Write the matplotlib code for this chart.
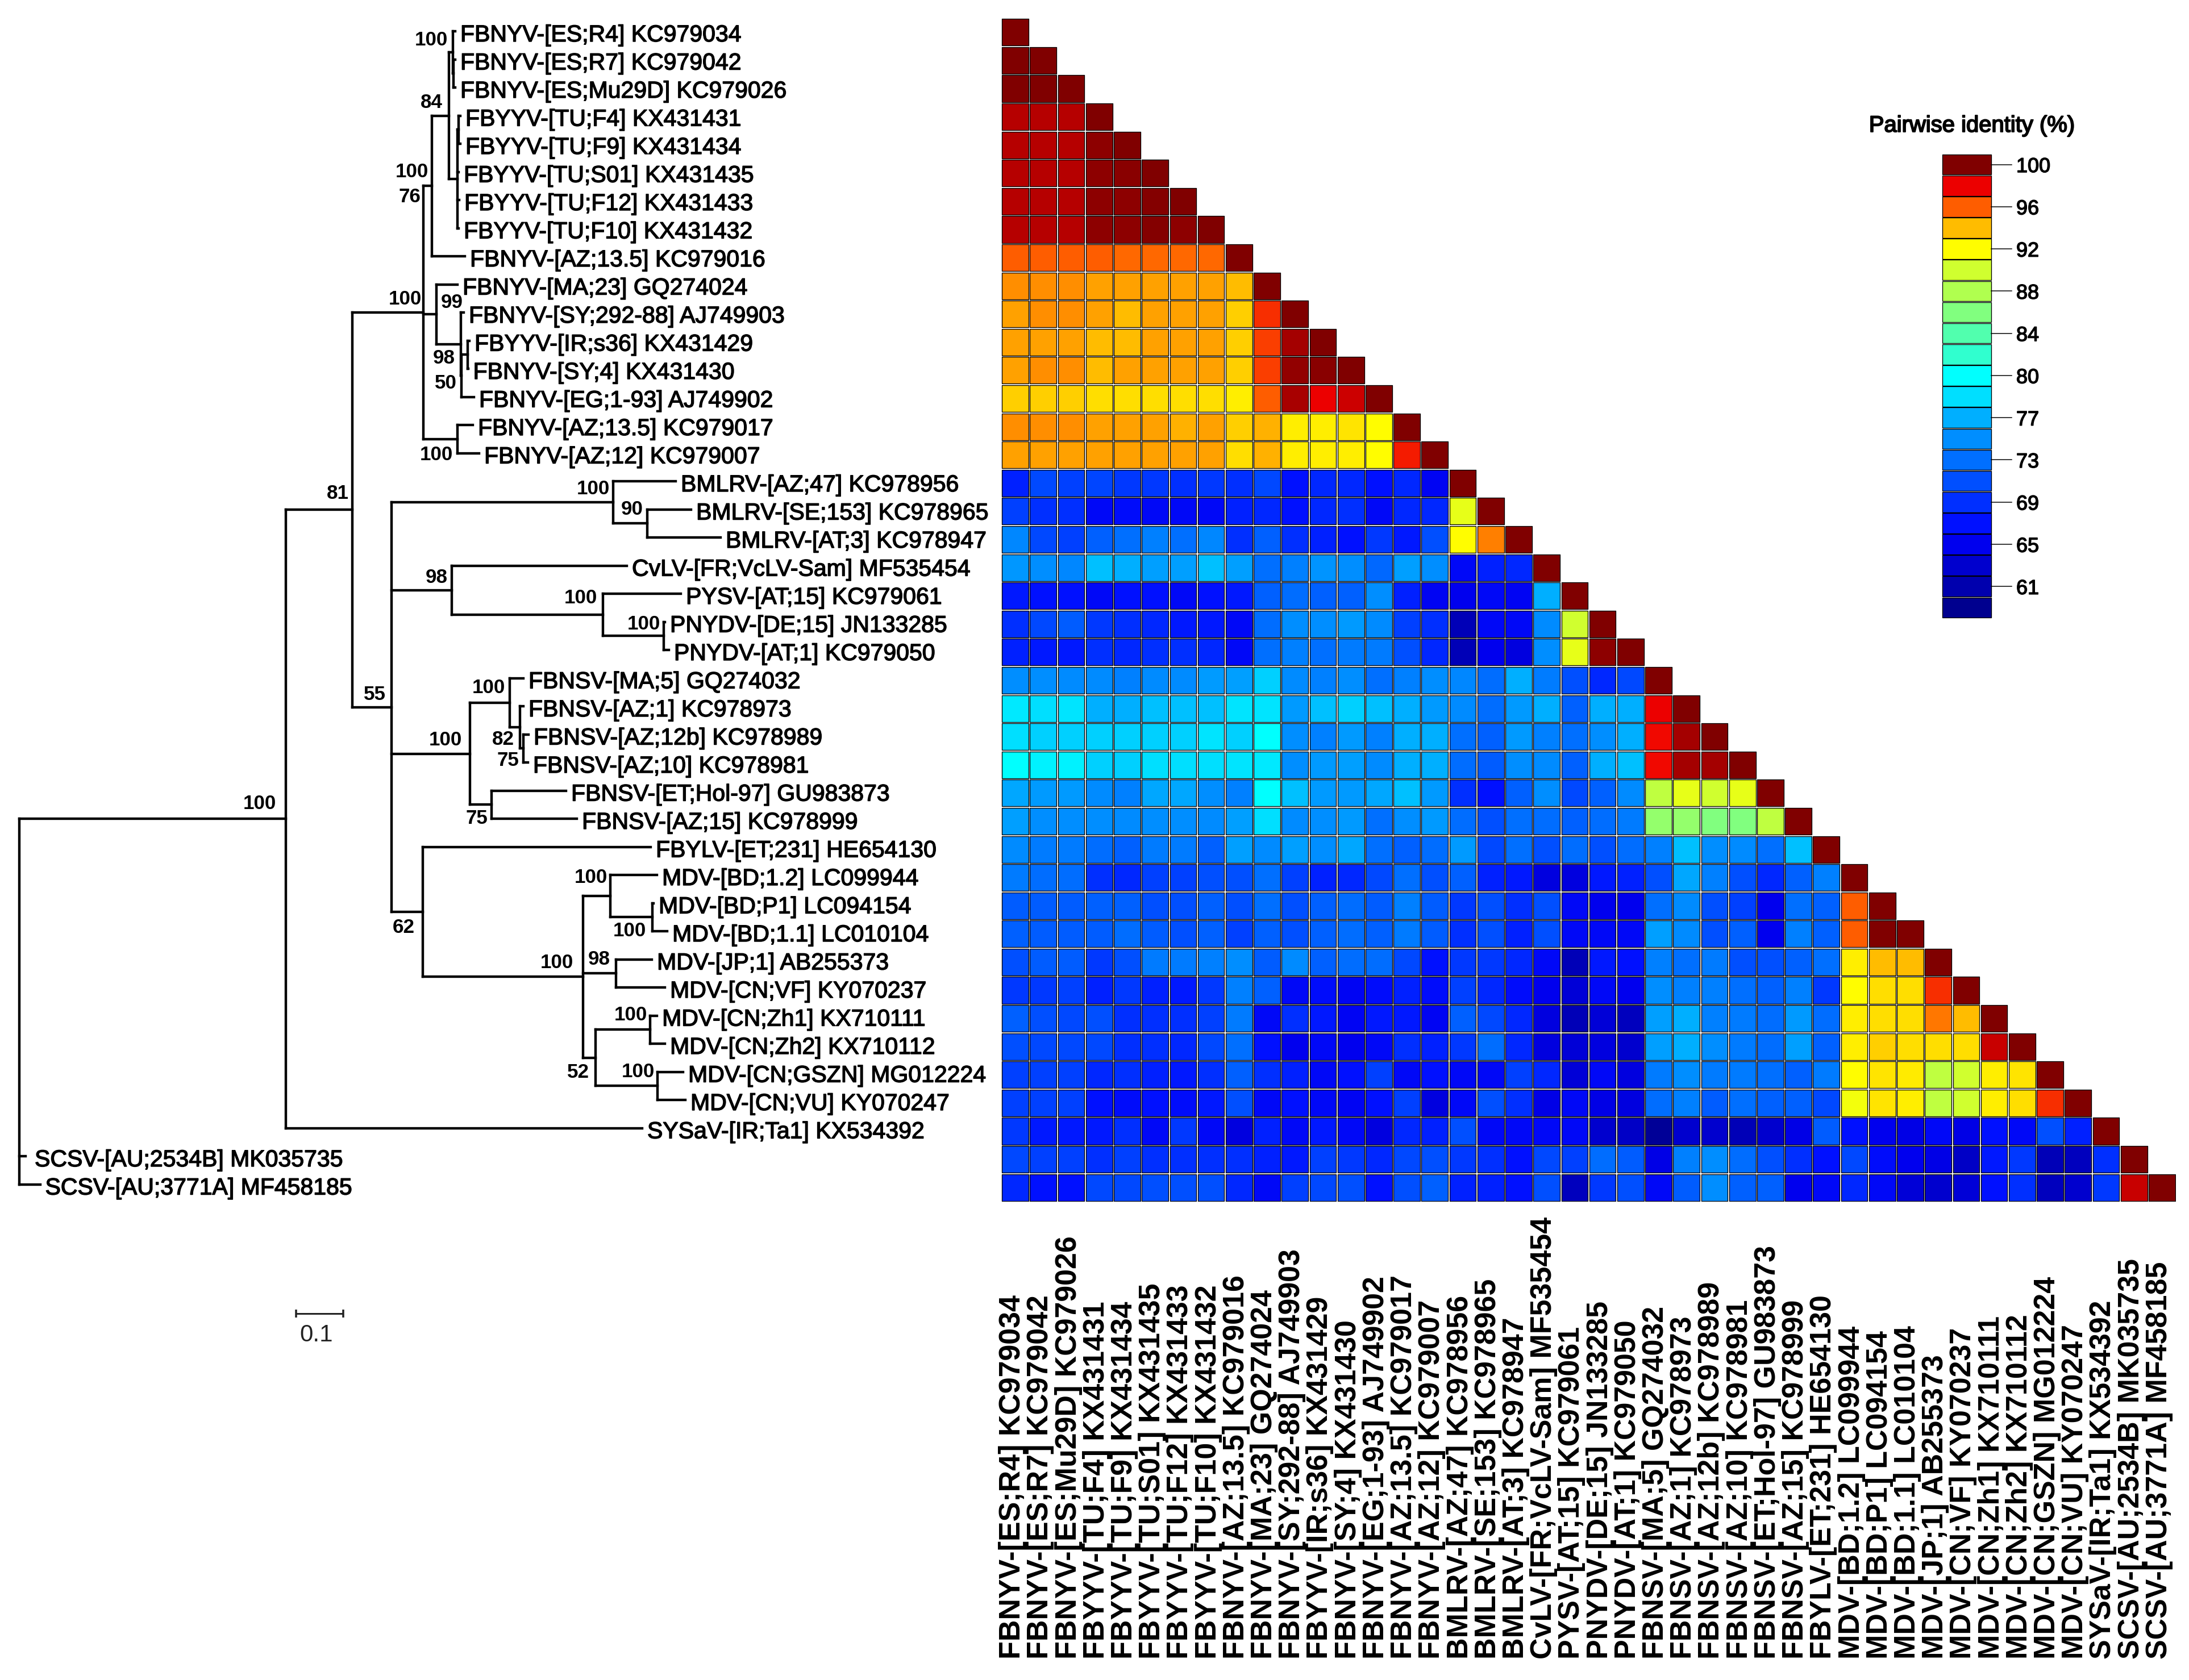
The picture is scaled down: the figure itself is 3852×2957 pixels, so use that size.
import matplotlib
matplotlib.use("Agg")
import matplotlib.pyplot as plt
import matplotlib.patheffects as pe
from matplotlib.collections import LineCollection, PatchCollection
from matplotlib.colors import LinearSegmentedColormap, Normalize
from matplotlib.patches import Rectangle

# ---------------------------------------------------------------- data
ISOLATES = [
    "FBNYV-[ES;R4] KC979034", "FBNYV-[ES;R7] KC979042", "FBNYV-[ES;Mu29D] KC979026",
    "FBYYV-[TU;F4] KX431431", "FBYYV-[TU;F9] KX431434", "FBYYV-[TU;S01] KX431435",
    "FBYYV-[TU;F12] KX431433", "FBYYV-[TU;F10] KX431432", "FBNYV-[AZ;13.5] KC979016",
    "FBNYV-[MA;23] GQ274024", "FBNYV-[SY;292-88] AJ749903", "FBYYV-[IR;s36] KX431429",
    "FBNYV-[SY;4] KX431430", "FBNYV-[EG;1-93] AJ749902", "FBNYV-[AZ;13.5] KC979017",
    "FBNYV-[AZ;12] KC979007", "BMLRV-[AZ;47] KC978956", "BMLRV-[SE;153] KC978965",
    "BMLRV-[AT;3] KC978947", "CvLV-[FR;VcLV-Sam] MF535454", "PYSV-[AT;15] KC979061",
    "PNYDV-[DE;15] JN133285", "PNYDV-[AT;1] KC979050", "FBNSV-[MA;5] GQ274032",
    "FBNSV-[AZ;1] KC978973", "FBNSV-[AZ;12b] KC978989", "FBNSV-[AZ;10] KC978981",
    "FBNSV-[ET;Hol-97] GU983873", "FBNSV-[AZ;15] KC978999", "FBYLV-[ET;231] HE654130",
    "MDV-[BD;1.2] LC099944", "MDV-[BD;P1] LC094154", "MDV-[BD;1.1] LC010104",
    "MDV-[JP;1] AB255373", "MDV-[CN;VF] KY070237", "MDV-[CN;Zh1] KX710111",
    "MDV-[CN;Zh2] KX710112", "MDV-[CN;GSZN] MG012224", "MDV-[CN;VU] KY070247",
    "SYSaV-[IR;Ta1] KX534392", "SCSV-[AU;2534B] MK035735", "SCSV-[AU;3771A] MF458185",
]

# Lower triangle of the pairwise identity matrix (%)
IDENTITY = [
    [100],
    [100, 100],
    [100, 100, 100],
    [99, 99, 99, 100],
    [99, 99, 99, 99.7, 100],
    [99, 99, 99, 99.7, 99.8, 100],
    [99, 99, 99, 99.7, 99.7, 99.9, 100],
    [99, 99, 99, 99.7, 99.7, 99.9, 99.7, 100],
    [96, 96, 96, 96, 95.8, 95.8, 95.8, 95.8, 100],
    [95, 95, 95, 94.6, 94.6, 94.6, 94.6, 94.6, 94, 100],
    [94.6, 95, 95, 94.6, 94, 94.6, 94.6, 94.6, 93.5, 97, 100],
    [94.6, 94.6, 94.6, 94, 94, 94.6, 94.6, 94.6, 93.5, 96.7, 99.3, 100],
    [94.6, 95, 95, 94, 94.6, 94.6, 94.6, 94.6, 93.5, 96.7, 99.6, 99.8, 100],
    [93.5, 93.5, 93.5, 93, 93, 93, 93, 93, 92.5, 96, 99.2, 98, 98.6, 100],
    [95, 95, 95, 94.6, 94.6, 94.6, 94.3, 94.6, 93.5, 94.3, 92.5, 92.5, 92.8, 92, 100],
    [94.6, 94.6, 94.6, 94.6, 94.6, 94.6, 94.6, 94.6, 93, 94.3, 92.5, 92.5, 92.5, 92, 97.4, 100],
    [68, 70.6, 70, 70.3, 69.5, 69.5, 69, 69.5, 69, 70.5, 67, 68.5, 68.5, 67, 68.5, 65.5, 100],
    [70, 69, 69, 66, 66.5, 66, 66, 66, 68, 68.5, 67, 68.5, 69, 66, 68.5, 68.5, 91, 100],
    [74.5, 70.5, 70, 72, 73, 74, 73, 74.5, 69, 72, 69, 68, 67, 69.5, 67.5, 71, 92, 95.3, 100],
    [75.5, 75, 74.5, 77.5, 77, 76, 76, 77.5, 76, 73, 74, 75.3, 75, 72.5, 76, 75, 66, 68, 68.5, 100],
    [67.5, 67, 67, 66, 67, 67, 66, 67, 67.5, 72, 72.8, 72, 72, 75, 68, 65.5, 65, 66, 65.5, 77, 100],
    [69, 70.5, 71.8, 69.5, 69, 68.5, 67.5, 67.5, 66, 72.8, 75, 75, 75.7, 74.7, 70, 69, 61.5, 66, 66, 74.7, 90, 100],
    [68, 67.5, 67.5, 69, 68.5, 69, 69, 68.5, 66, 73, 74, 73, 73.7, 73.7, 71, 68.5, 61.5, 65, 64, 75, 91, 99.7, 100],
    [75, 75, 74.7, 74.7, 74, 74.7, 74.7, 75.8, 76, 78, 74.7, 74, 75, 73, 74, 75, 74.5, 72.8, 77, 73.8, 71, 68.5, 70.5, 100],
    [79, 78.5, 78.7, 77, 77, 77.5, 77.5, 77.5, 78.7, 78.7, 75.7, 77.5, 78, 77.5, 77, 75.7, 74.7, 72.8, 75.7, 77, 72, 77, 77, 98, 100],
    [78.5, 78, 78, 78, 78, 78, 78, 78.7, 78, 80, 75, 74, 75.7, 74, 77, 77, 73, 72, 75.7, 74, 73, 75, 77, 97.8, 99.3, 100],
    [80, 79.4, 79.4, 78, 78, 78.5, 78.5, 78.5, 78.7, 79, 75, 75.7, 76, 74.7, 77, 77, 72.8, 71.8, 75, 74.7, 72, 77, 77.5, 97.8, 99.3, 99.3, 100],
    [76.5, 75.7, 75.7, 74.7, 74, 76.5, 76.5, 75, 74, 80, 77.5, 75.7, 75.7, 76.5, 77.5, 75.7, 69, 67, 72, 75, 70.5, 72, 74.7, 89, 91, 90, 91, 100],
    [76, 75, 75, 75, 74.7, 75, 75, 74.7, 76, 78.5, 74.7, 75, 75.7, 73, 75, 75.7, 72.8, 71, 73, 72.8, 72, 72.8, 73.7, 86.8, 86.8, 86, 86, 89, 100],
    [74.7, 73.7, 73.7, 72.8, 72, 73.7, 73.7, 72, 76, 74.7, 76, 75, 76.5, 73, 72, 72.8, 75.7, 70.5, 73, 71, 72.8, 71, 72.8, 74, 77.5, 75, 74.7, 73, 77.5, 100],
    [73.7, 72.8, 72.8, 69, 68.5, 70, 70, 71, 71, 73, 70, 68, 68.5, 70.5, 73, 71, 72, 68, 67.5, 64, 64, 67.5, 68, 71, 76.5, 74, 71, 68.5, 72, 74, 100],
    [71.8, 71.8, 71.8, 72, 72, 71, 71, 72, 71, 73, 71, 72, 72.8, 71.8, 74, 71.8, 69.5, 71, 69, 71, 66, 65, 65, 73, 74.7, 71, 70, 65, 73, 72, 96, 100],
    [72, 71.8, 71.8, 71.8, 72.8, 71.8, 71, 72, 70, 72, 71, 72, 72.8, 72, 73.7, 71.8, 69, 71, 68, 71, 66, 66, 66, 76, 74.7, 71, 72, 65, 74, 72, 96, 100, 100],
    [71, 71.8, 71.8, 69.5, 71, 73.7, 73.7, 74, 75, 71.8, 74.7, 72, 72.8, 72.8, 70.5, 67, 69.5, 69.5, 68.5, 66, 61.5, 67.5, 67, 74, 73, 73.7, 71, 71, 72, 73, 92.5, 94, 94, 100],
    [69.5, 69.5, 70, 68, 69.5, 68, 67.5, 69.5, 74, 72, 66, 66.5, 65.5, 66.5, 68, 66.5, 70, 68.5, 66.5, 65, 63.5, 66, 65, 75, 74, 74, 73, 72, 74, 69.5, 92, 93, 93, 97, 100],
    [72, 71, 70.5, 71, 69, 69, 69, 70, 73.7, 66, 69, 67.5, 65.5, 67.5, 67.5, 65.5, 72, 70.5, 68.5, 64, 61.5, 63.5, 62, 76, 77, 74, 73.7, 72.8, 75.7, 72.8, 92.5, 93, 93, 95.5, 94, 100],
    [71, 70.5, 70.5, 70.5, 69, 69, 68.5, 70.5, 73, 67, 65, 66, 65, 66, 69, 68, 69.5, 72.8, 68.5, 64, 63.5, 64, 63, 76, 77, 75, 73.7, 72.8, 76, 72, 92.5, 93.5, 93, 93, 93, 98.7, 100],
    [70, 70, 70, 68.5, 69, 68, 67.5, 69, 72, 69, 68, 66, 67, 70, 66, 67, 66, 66, 70, 68.5, 63.5, 66, 64, 73.7, 75, 73.7, 73.7, 73, 72, 73.7, 92, 92.8, 92.6, 89, 90, 92.5, 92.8, 100],
    [70, 70, 70, 67, 66.5, 67, 66.5, 67.5, 71, 66, 67, 66, 65.5, 67, 70, 64, 66, 71, 69, 64.5, 66, 64.5, 64, 72.8, 74, 71.8, 73, 72, 72, 70.5, 91.5, 92.8, 92.5, 89, 90, 92.5, 93, 97, 100],
    [69.5, 67.5, 67.5, 67.5, 69, 66, 69.5, 66, 64, 68, 66, 67.5, 66, 64, 68.5, 68, 71, 66, 66, 66, 66, 63, 62.5, 59.5, 63, 63, 61.5, 63, 64.5, 71.8, 67, 65, 64.5, 66, 64.5, 67, 66, 71, 68, 100],
    [70.5, 70, 70, 69, 70, 69, 69, 69, 69, 68, 67.5, 70, 69.5, 68.5, 70.5, 71, 69.5, 69, 67, 70.5, 70, 72.8, 71.8, 64.5, 74, 75, 72.8, 71, 69, 67, 70.5, 66.5, 65, 64.5, 62.5, 67.5, 69.5, 61.5, 62, 69, 100],
    [68.5, 67, 67, 70.5, 70.5, 71, 71, 71, 68.5, 66, 70, 70.5, 71, 67, 71, 72, 68, 68, 67, 71, 62, 69.5, 71, 66, 71.8, 75, 72, 72, 65, 66, 68.5, 66, 63.5, 63, 63.5, 67, 69, 62, 63, 69.5, 98.7, 100],
]
assert all(len(r) == i + 1 for i, r in enumerate(IDENTITY))

# Neighbour-joining tree: [branch length, children]; a leaf is [branch length]; leaves in ISOLATES order
TREE = [0, [
    [0.5651, [
        [0.1410, [
            [0.1506, [
                [0.0181, [
                    [0.0361, [
                        [0.0084, [[0.0048], [0.0012, [[0.0036], [0.0036]]]]],
                        [0.0181, [[0.0024, [[0.0036], [0.0036]]], [0.0024], [0.0036], [0.0024]]],
                    ]],
                    [0.0699],
                ]],
                [0.0277, [
                    [0.0446],
                    [0.0518, [
                        [0.0060],
                        [0.0012, [[0.0133, [[0.0036], [0.0006]]], [0.0265]]],
                    ]],
                ]],
                [0.0723, [[0.0325], [0.0458]]],
            ]],
            [0.0831, [
                [0.4699, [[0.1325], [0.0723, [[0.0928], [0.1554]]]]],
                [0.1277, [
                    [0.3711],
                    [0.3205, [[0.1651], [0.1289, [[0.0024], [0.0108]]]]],
                ]],
                [0.1663, [
                    [0.0843, [[0.0289], [0.0217, [[0.0072], [0.0072, [[0.0108], [0.0096]]]]]]],
                    [0.0458, [[0.1578], [0.1807]]],
                ]],
                [0.0663, [
                    [0.4831],
                    [0.3398, [
                        [0.0578, [[0.0988], [0.0892, [[0.0024], [0.0313]]]]],
                        [0.0699, [[0.0759], [0.1036]]],
                        [0.0265, [
                            [0.1157, [[0.0145], [0.0313]]],
                            [0.1313, [[0.0542], [0.0590]]],
                        ]],
                    ]],
                ]],
            ]],
        ]],
        [0.7554],
    ]],
    [0.0133],
    [0.0440],
]]

SUPPORT_VALUES = [100, 84, 100, 76, 100, 99, 98, 50, 100, 81, 100, 90, 98, 100, 100, 100, 55, 82, 75, 100,
                  75, 62, 100, 100, 100, 98, 100, 52, 100, 100]
SUPPORT_XY = [(759, 70), (759, 180), (725, 302), (721, 347), (713, 526), (795, 533), (781, 631), (784, 675),
              (768, 801), (594, 869), (1044, 860), (1112, 896), (768, 1016), (1022, 1052), (1133, 1099),
              (860, 1210), (659, 1222), (885, 1301), (894, 1338), (784, 1303), (839, 1441), (710, 1632),
              (1040, 1544), (1108, 1639), (980, 1695), (1054, 1689), (1110, 1786), (1017, 1888), (1123, 1887),
              (457, 1415)]

LEGEND_LEVELS = [100, 98, 96, 94, 92, 90, 88, 86, 84, 82, 80, 78.5, 77, 75, 73, 71, 69, 67, 65, 63, 61, 59]
LEGEND_COLORS = ["#800000", "#F00000", "#FF6000", "#FFBF00", "#FFFF00", "#CFFF30", "#AFFF50", "#80FF80",
                 "#50FFAF", "#30FFCF", "#00FFFF", "#00DFFF", "#00AFFF", "#008FFF", "#0070FF", "#0050FF",
                 "#0030FF", "#0010FF", "#0000EF", "#0000CF", "#0000AF", "#00008F"]
LEGEND_TICKS = [100, 96, 92, 88, 84, 80, 77, 73, 69, 65, 61]
SCALE_BAR = 0.1

# ---------------------------------------------------------------- layout
W, H = 3852, 2957
DPI = 300
PX = 72 / DPI   # points per pixel
SANS = ["Liberation Sans"]

fig = plt.figure(figsize=(W / DPI, H / DPI), dpi=DPI, facecolor="white")


def axes_px(left, top, right, bottom):
    return fig.add_axes([left / W, 1 - bottom / H, (right - left) / W, (bottom - top) / H])


def fig_xy(x, y):
    return x / W, 1 - y / H


def heavy(px):
    return [pe.withStroke(linewidth=px * PX, foreground="black")]


# ---------------------------------------------------------------- colour scale
lo, hi = min(LEGEND_LEVELS), max(LEGEND_LEVELS)
norm = Normalize(lo, hi)
cmap = LinearSegmentedColormap.from_list(
    "identity", sorted(((l - lo) / (hi - lo), c) for l, c in zip(LEGEND_LEVELS, LEGEND_COLORS)), N=512)

# ---------------------------------------------------------------- heatmap
n = len(ISOLATES)
hx0, hy0, hx1, hy1 = 1762, 32, 3829, 2115
ax = axes_px(hx0, hy0, hx1, hy1)
ax.set_xlim(0, n)
ax.set_ylim(n, 0)
ax.axis("off")
GAP = 0.025
cells, vals = [], []
for r, row in enumerate(IDENTITY):
    for c, v in enumerate(row):
        cells.append(Rectangle((c + GAP, r + GAP), 1 - 2 * GAP, 1 - 2 * GAP))
        vals.append(v)
pc = PatchCollection(cells, cmap=cmap, norm=norm, edgecolor="black", linewidth=1.3 * PX)
pc.set_array(vals)
ax.add_collection(pc)

label_y = (hy1 - 2920) / (hy1 - hy0)
for i, name in enumerate(ISOLATES):
    ax.text(i + 0.5 + 8.5 / 49.2, label_y, name, transform=ax.get_xaxis_transform(), rotation=90,
            rotation_mode="anchor", ha="left", va="baseline", fontsize=52 * PX, family=SANS, weight="bold",
            color="black", clip_on=False)

# ---------------------------------------------------------------- tree
UNIT = 830            # pixels per substitution/site
ROOT_X = 34
ROW0, ROW_STEP = 55, 49.5
tree_ax = axes_px(0, 0, 1755, H)
tree_ax.set_xlim(-ROOT_X / UNIT, (1755 - ROOT_X) / UNIT)
tree_ax.set_ylim((H - ROW0) / ROW_STEP, -ROW0 / ROW_STEP)
tree_ax.axis("off")
tree_ax.patch.set_alpha(0)

segments = []
tips = []


def walk(node, x0):
    x = x0 + node[0]
    if len(node) == 1:
        y = len(tips)
        tips.append((x, y))
    else:
        ys = [walk(ch, x) for ch in node[1]]
        segments.append([(x, ys[0]), (x, ys[-1])])
        y = (ys[0] + ys[-1]) / 2
        if node is TREE:
            return y
    segments.append([(x0, y), (x, y)])
    return y


walk(TREE, 0.0)
lc = LineCollection(segments, colors="black", linewidths=4.4 * PX, capstyle="projecting")
tree_ax.add_collection(lc)

GAP_PX = 9
for i, ((x, y), name) in enumerate(zip(tips, ISOLATES)):
    extra = 7 if i == 40 else 0
    tree_ax.text(x + (GAP_PX + extra) / UNIT, y + 18 / ROW_STEP, name, ha="left", va="baseline",
                 fontsize=41 * PX, family=SANS, color="black", path_effects=heavy(1.5))

for val, (sx, sy) in zip(SUPPORT_VALUES, SUPPORT_XY):
    fx, fy = fig_xy(sx, sy)
    fig.text(fx, fy, str(val), ha="center", va="center", fontsize=35 * PX, family=SANS, weight="bold")

# scale bar
bar_x0 = (521 - ROOT_X) / UNIT
bar_y = (2312 - ROW0) / ROW_STEP
tree_ax.plot([bar_x0, bar_x0 + SCALE_BAR], [bar_y, bar_y], color="#222222", lw=3 * PX, solid_capstyle="butt")
for xx in (bar_x0, bar_x0 + SCALE_BAR):
    tree_ax.plot([xx, xx], [bar_y - 7 / ROW_STEP, bar_y + 7 / ROW_STEP], color="#222222", lw=3.5 * PX,
                 solid_capstyle="butt")
fx, fy = fig_xy(557, 2350)
fig.text(fx, fy, f"{SCALE_BAR:g}", ha="center", va="center", fontsize=42 * PX, family=SANS, color="#222222")

# ---------------------------------------------------------------- legend
lx0, ly0, lx1, ly1 = 3418, 271, 3504, 1088
leg = axes_px(lx0, ly0, lx1, ly1)
m = len(LEGEND_LEVELS)
swatch_w = lx1 - lx0
leg.set_xlim(0, 1)
leg.set_ylim(m, 0)
leg.axis("off")
for i, lv in enumerate(LEGEND_LEVELS):
    leg.add_patch(Rectangle((0, i + 0.02), 1, 0.96, facecolor=cmap(norm(lv)), edgecolor="black",
                            linewidth=1.3 * PX, clip_on=False))
    if lv in LEGEND_TICKS:
        leg.plot([1, 1 + 36 / swatch_w], [i + 0.5, i + 0.5], color="black", lw=1.5 * PX, clip_on=False)
        leg.text(1 + 44 / swatch_w, i + 0.5, f"{lv:g}", ha="left", va="center_baseline", fontsize=36 * PX,
                 family=SANS, clip_on=False, path_effects=heavy(1.5))
fx, fy = fig_xy(3470, 221)
fig.text(fx, fy, "Pairwise identity (%)", ha="center", va="center", fontsize=40 * PX, family=SANS,
         path_effects=heavy(2))

fig.savefig("out.png", dpi=DPI, facecolor="white")
